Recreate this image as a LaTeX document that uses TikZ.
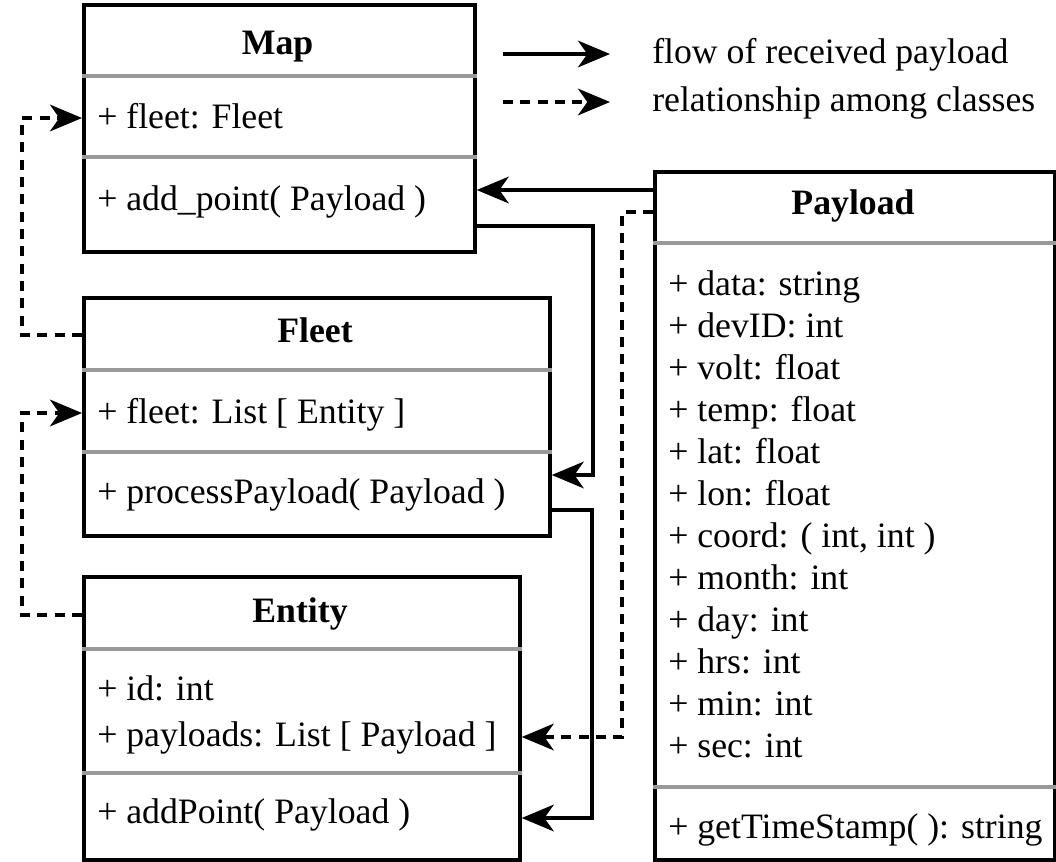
\documentclass[tikz,border=0pt]{standalone}
\usepackage{fontspec}
\setmainfont{Liberation Serif}
\usetikzlibrary{arrows.meta}
\begin{document}
\begin{tikzpicture}[x=0.75pt,y=-0.75pt,
  box/.style={draw=black,line width=2.8pt,fill=none,anchor=north west,inner sep=0pt},
  sep/.style={draw=black!40,line width=2.4pt},
  txt/.style={inner sep=0pt,anchor=base west,font=\fontsize{26.8}{30}\selectfont},
  ttl/.style={inner sep=0pt,anchor=base,font=\fontsize{26.8}{30}\selectfont\bfseries},
  tip/.style={-{Stealth[length=24pt,width=20pt,inset=7pt]}},
  flow/.style={line width=2.6pt,tip},
  rel/.style={line width=2.6pt,dash pattern=on 7.5pt off 5.5pt,tip}
]
\useasboundingbox (0,0) rectangle (1056,861);

% boxes
\node[box,minimum width=293.25pt,minimum height=185.25pt] (map) at (82,3) {};
\node[box,minimum width=349.5pt,minimum height=178.5pt] (fleet) at (82,296) {};
\node[box,minimum width=327pt,minimum height=212.25pt] (entity) at (82,575) {};
\node[box,minimum width=300pt,minimum height=516pt] (payload) at (653,170) {};

% separators
\draw[sep] (map.west |- 0,76) -- (map.east |- 0,76);
\draw[sep] (map.west |- 0,157) -- (map.east |- 0,157);
\draw[sep] (fleet.west |- 0,370) -- (fleet.east |- 0,370);
\draw[sep] (fleet.west |- 0,452) -- (fleet.east |- 0,452);
\draw[sep] (entity.west |- 0,649) -- (entity.east |- 0,649);
\draw[sep] (entity.west |- 0,773) -- (entity.east |- 0,773);
\draw[sep] (payload.west |- 0,243) -- (payload.east |- 0,243);
\draw[sep] (payload.west |- 0,787) -- (payload.east |- 0,787);

% Map text
\node[ttl] (mapt) at (277.5,54) {Map};
\node[txt] (mapf) at (97,128) {+ fleet: Fleet};
\node[txt] (mapm) at (97,210) {+ add\_point( Payload )};

% Fleet text
\node[ttl] (fleett) at (315,342) {Fleet};
\node[txt] (fleetf) at (97,423) {+ fleet: List [ Entity ]};
\node[txt] (fleetm) at (97,503) {+ processPayload( Payload )};

% Entity text
\node[ttl] (entityt) at (300,622) {Entity};
\node[txt] (entityf1) at (97,700) {+ id: int};
\node[txt] (entityf2) at (97,746) {+ payloads: List [ Payload ]};
\node[txt] (entitym) at (97,823) {+ addPoint( Payload )};

% Payload text
\node[ttl] (payloadt) at (853,214) {Payload};
\node[txt] (pf1) at (668,295) {+ data: string};
\node[txt] (pf2) at (668,337) {+ devID: int};
\node[txt] (pf3) at (668,379) {+ volt: float};
\node[txt] (pf4) at (668,421) {+ temp: float};
\node[txt] (pf5) at (668,463) {+ lat: float};
\node[txt] (pf6) at (668,505) {+ lon: float};
\node[txt] (pf7) at (668,547) {+ coord: ( int, int )};
\node[txt] (pf8) at (668,589) {+ month: int};
\node[txt] (pf9) at (668,631) {+ day: int};
\node[txt] (pf10) at (668,673) {+ hrs: int};
\node[txt] (pf11) at (668,715) {+ min: int};
\node[txt] (pf12) at (668,757) {+ sec: int};
\node[txt] (pm) at (668,838) {+ getTimeStamp( ): string};

% legend
\coordinate (l1s) at (503,54);
\coordinate (l1e) at (610,54);
\coordinate (l2s) at (503,102);
\coordinate (l2e) at (610,102);
\draw[flow] (l1s) -- (l1e);
\draw[rel] (l2s) -- (l2e);
\node[txt] (leg1) at (652,63) {flow of received payload};
\node[txt] (leg2) at (652,111) {relationship among classes};

% flow connectors
\draw[flow] (payload.west |- 0,190) -- (map.east |- 0,190);
\draw[flow] (map.east |- 0,226) -- (593,226) -- (593,475) -- (fleet.east |- 0,475);
\draw[flow] (fleet.east |- 0,510) -- (592,510) -- (592,818) -- (entity.east |- 0,818);

% relationship connectors
\draw[rel] (payload.west |- 0,212) -- (622,212) -- (622,737) -- (entity.east |- 0,737);
\draw[rel] (fleet.west |- 0,335) -- (22,335) -- (22,118) -- (map.west |- 0,118);
\draw[rel] (entity.west |- 0,615) -- (22,615) -- (22,413) -- (fleet.west |- 0,413);
\end{tikzpicture}
\end{document}
